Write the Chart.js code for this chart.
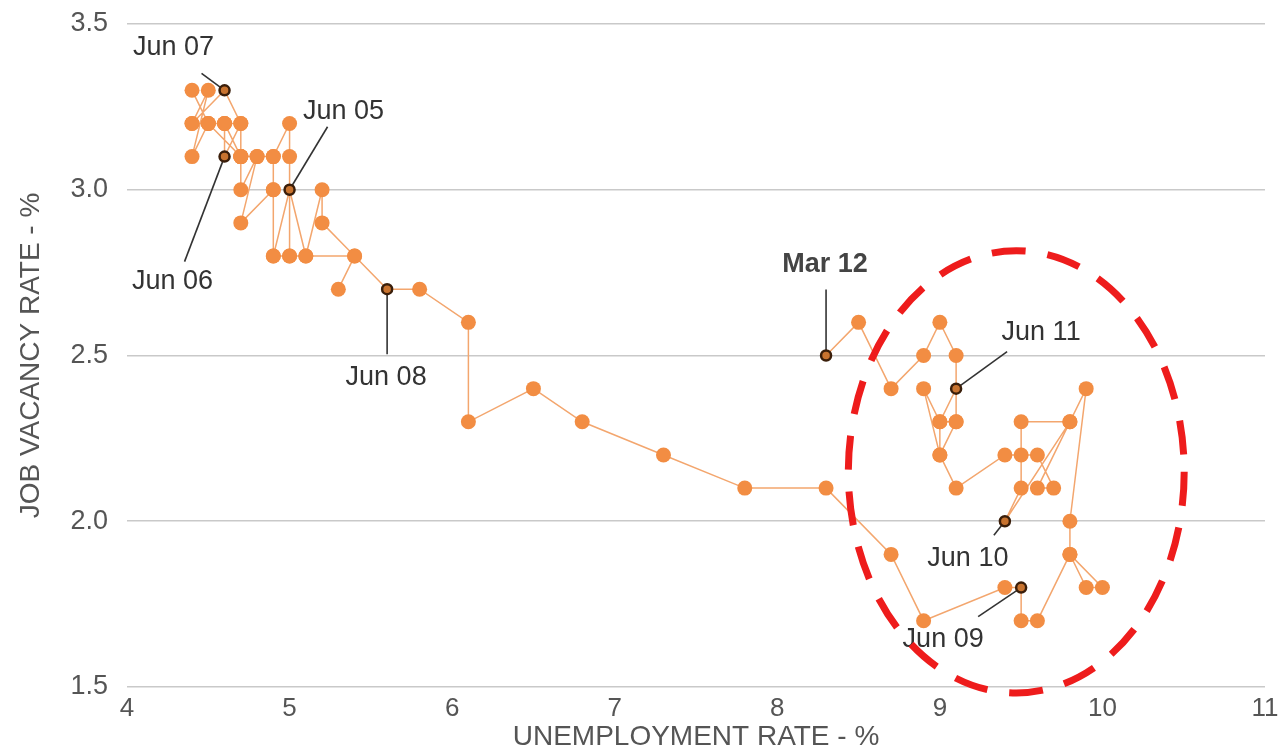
<!DOCTYPE html>
<html>
<head>
<meta charset="utf-8">
<script src="https://cdn.jsdelivr.net/npm/chart.js@4.4.1/dist/chart.umd.min.js"></script>
<style>
  html, body { margin: 0; background: #fff; }
  #wrap { width: 1279px; height: 750px; position: relative; }
</style>
</head>
<body>
<div id="wrap"><canvas id="chart"></canvas></div>
<script>
// Monthly Beveridge curve, Jan 05 - Mar 12
const years = ['05', '06', '07', '08', '09', '10', '11', '12'];
const monthNames = ['Jan', 'Feb', 'Mar', 'Apr', 'May', 'Jun', 'Jul', 'Aug', 'Sep', 'Oct', 'Nov', 'Dec'];

const unemployment = [
  5.3, 5.4, 5.2, 5.2, 5.1, 5.0, 4.9, 5.0, 5.0, 5.0, 4.9, 4.9,   // 2005
  4.7, 4.8, 4.7, 4.7, 4.6, 4.6, 4.7, 4.7, 4.5, 4.4, 4.5, 4.4,   // 2006
  4.6, 4.5, 4.4, 4.5, 4.4, 4.6, 4.7, 4.6, 4.7, 4.8, 4.7, 4.9,   // 2007
  4.9, 4.9, 5.0, 5.1, 5.4, 5.6, 5.8, 6.1, 6.1, 6.5, 6.8, 7.3,   // 2008
  7.8, 8.3, 8.7, 8.9, 9.4, 9.5, 9.5, 9.6, 9.8, 10.0, 9.9, 9.8,  // 2009
  9.8, 9.9, 9.8, 9.5, 9.5, 9.4, 9.8, 9.6, 9.7, 9.6, 9.5, 9.4,   // 2010
  9.1, 9.0, 8.9, 9.0, 9.1, 9.1, 9.0, 9.0, 9.1, 9.1, 9.0, 8.9,   // 2011
  8.7, 8.5, 8.3                                                 // 2012
];
const vacancy = [
  2.7, 2.8, 2.9, 3.0, 2.8, 3.0, 2.8, 2.8, 3.1, 3.2, 3.1, 3.0,
  2.9, 3.1, 3.0, 3.1, 3.2, 3.1, 3.2, 3.1, 3.2, 3.1, 3.3, 3.2,
  3.2, 3.2, 3.3, 3.2, 3.2, 3.3, 3.2, 3.2, 3.1, 3.1, 3.1, 3.1,
  3.0, 2.8, 2.8, 2.8, 2.8, 2.7, 2.7, 2.6, 2.3, 2.4, 2.3, 2.2,
  2.1, 2.1, 1.9, 1.7, 1.8, 1.8, 1.7, 1.7, 1.9, 1.8, 1.8, 1.9,
  2.0, 2.4, 2.3, 2.3, 2.1, 2.0, 2.3, 2.1, 2.1, 2.2, 2.2, 2.2,
  2.1, 2.2, 2.4, 2.3, 2.3, 2.4, 2.3, 2.2, 2.3, 2.5, 2.6, 2.5,
  2.4, 2.6, 2.5
];
const xTicks = [4, 5, 6, 7, 8, 9, 10, 11];
const yTicks = [1.5, 2.0, 2.5, 3.0, 3.5];
const labelled = ['Jun 05', 'Jun 06', 'Jun 07', 'Jun 08', 'Jun 09', 'Jun 10', 'Jun 11', 'Mar 12'];

const months = [];
years.forEach(y => monthNames.forEach(m => months.push(m + ' ' + y)));
months.length = unemployment.length;

// callout placement (pixel offsets from the point)
const callouts = {
  'Jun 07': { tx: -51, ty: -43, lx: -23, ly: -17 },
  'Jun 05': { tx: 54, ty: -78, lx: 38, ly: -63 },
  'Jun 06': { tx: -52, ty: 125, lx: -40, ly: 105 },
  'Jun 08': { tx: -1, ty: 88, lx: 0, ly: 65 },
  'Mar 12': { tx: -1, ty: -91, lx: 0, ly: -66, bold: true },
  'Jun 11': { tx: 85, ty: -56, lx: 51, ly: -37 },
  'Jun 10': { tx: -37, ty: 37, lx: -11, ly: 14 },
  'Jun 09': { tx: -78, ty: 52, lx: -43, ly: 29 }
};
// highlighted area, in axis units
const ring = { cx: 9.47, cy: 2.149, rx: 1.033, ry: 0.667 };

const points = unemployment.map((u, i) => ({ x: u, y: vacancy[i], m: months[i] }));
const isKey = ctx => ctx.raw && labelled.includes(ctx.raw.m);
const FONT = '"Liberation Sans", Arial, sans-serif';

const callout = {
  id: 'callout',
  beforeDatasetsDraw(chart) {
    const { ctx, scales: { x, y } } = chart;
    ctx.save();
    ctx.strokeStyle = '#333';
    ctx.lineWidth = 1.6;
    points.forEach(p => {
      const c = callouts[p.m];
      if (!c) return;
      const px = x.getPixelForValue(p.x), py = y.getPixelForValue(p.y);
      ctx.beginPath();
      ctx.moveTo(px, py);
      ctx.lineTo(px + c.lx, py + c.ly);
      ctx.stroke();
    });
    ctx.restore();
  },
  afterDatasetsDraw(chart) {
    const { ctx, scales: { x, y } } = chart;
    ctx.save();
    ctx.textAlign = 'center';
    ctx.textBaseline = 'middle';
    points.forEach(p => {
      const c = callouts[p.m];
      if (!c) return;
      const px = x.getPixelForValue(p.x), py = y.getPixelForValue(p.y);
      ctx.fillStyle = c.bold ? '#444' : '#333';
      ctx.font = (c.bold ? 'bold ' : '') + '27px ' + FONT;
      ctx.fillText(p.m, px + c.tx, py + c.ty);
    });
    // red dashed ellipse
    const cx = x.getPixelForValue(ring.cx), cy = y.getPixelForValue(ring.cy);
    const rx = x.getPixelForValue(ring.cx + ring.rx) - cx;
    const ry = cy - y.getPixelForValue(ring.cy + ring.ry);
    ctx.beginPath();
    ctx.ellipse(cx, cy, rx, ry, 0, 0, Math.PI * 2);
    ctx.setLineDash([34, 22]);
    ctx.lineWidth = 7;
    ctx.strokeStyle = '#ee1c1c';
    ctx.stroke();
    ctx.restore();
  }
};

new Chart(document.querySelector('#chart'), {
  type: 'scatter',
  data: {
    datasets: [{
      data: points,
      showLine: true,
      borderColor: '#f3a66e',
      borderWidth: 1.5,
      pointRadius: ctx => isKey(ctx) ? 5 : 7.5,
      pointBackgroundColor: ctx => isKey(ctx) ? '#c8732f' : '#f28d43',
      pointBorderColor: ctx => isKey(ctx) ? '#3a1e0a' : '#f28d43',
      pointBorderWidth: ctx => isKey(ctx) ? 2.5 : 0
    }]
  },
  options: {
    responsive: true,
    maintainAspectRatio: false,
    animation: false,
    layout: { padding: { top: 24, right: 14, left: 14, bottom: 0 } },
    plugins: { legend: { display: false }, tooltip: { enabled: false } },
    scales: {
      x: {
        type: 'linear',
        min: xTicks[0],
        max: xTicks[xTicks.length - 1],
        afterBuildTicks: s => { s.ticks = xTicks.map(v => ({ value: v })); },
        afterFit: s => { s.height = 63; },
        grid: { display: false },
        border: { display: false },
        ticks: {
          padding: -2,
          color: '#555',
          font: { family: FONT, size: 26 }
        },
        title: {
          display: true,
          text: 'UNEMPLOYMENT RATE - %',
          color: '#555',
          padding: { top: 0, bottom: -4 },
          font: { family: FONT, size: 28 }
        }
      },
      y: {
        min: yTicks[0],
        max: yTicks[yTicks.length - 1],
        afterBuildTicks: s => { s.ticks = yTicks.map(v => ({ value: v })); },
        afterFit: s => { s.width = 113; s.paddingTop = 0; s.paddingBottom = 0; },
        grid: { color: '#c9c9c9', lineWidth: 1.6, drawTicks: false },
        border: { display: false },
        ticks: {
          padding: 19,
          color: '#555',
          font: { family: FONT, size: 27 },
          callback: v => v.toFixed(1)
        },
        title: {
          display: true,
          text: 'JOB VACANCY RATE - %',
          color: '#555',
          padding: { top: 0, bottom: 0 },
          font: { family: FONT, size: 28 }
        }
      }
    }
  },
  plugins: [callout]
});
</script>
</body>
</html>
